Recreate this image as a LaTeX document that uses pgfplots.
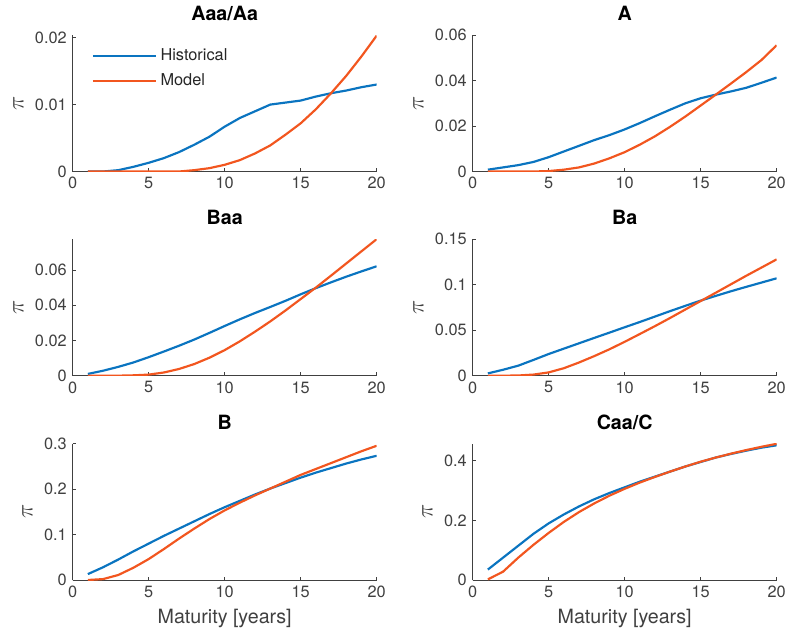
\documentclass[border=0pt]{standalone}
\usepackage{pgfplots}
\pgfplotsset{compat=1.18}
\usepackage{fontspec}
\setmainfont{TeX Gyre Heros}
\definecolor{mblue}{HTML}{0A74C0}
\definecolor{morange}{HTML}{F2561F}
\definecolor{axgray}{HTML}{404040}
\pgfplotsset{
  mystyle/.style={
    scale only axis, width=182.4pt, height=81.9pt,
    xmin=0, xmax=20, ymin=0,
    axis x line*=bottom, axis y line*=left,
    axis line style={draw=axgray, line width=0.5pt, -},
    tick align=inside, major tick length=2pt,
    tick style={draw=axgray, line width=0.5pt},
    xtick={0,5,10,15,20},
    ticklabel style={font=\fontsize{9.8}{11}\selectfont, text=axgray},
    /pgf/number format/assume math mode=true,
    yticklabel style={/pgf/number format/fixed, /pgf/number format/precision=2},
    scaled y ticks=false,
    ylabel={$\pi$},
    ylabel style={font=\fontsize{13.5}{15}\selectfont, text=axgray},
    xlabel style={font=\fontsize{11.8}{13}\selectfont, text=axgray},
    title style={font=\fontsize{11.8}{13}\selectfont\bfseries, yshift=-1pt},
    every axis plot/.append style={line width=1.3pt},
  },
  hist/.style={color=mblue},
  model/.style={color=morange},
}
\pgfplotstableread{
x hist model
1 0.0000 0.0000
2 0.0000 0.0000
3 0.0002 0.0000
4 0.0007 0.0000
5 0.0013 0.0000
6 0.0020 0.0000
7 0.0029 0.0000
8 0.0040 0.0002
9 0.0052 0.0005
10 0.0067 0.0010
11 0.0080 0.0017
12 0.0090 0.0027
13 0.0100 0.0039
14 0.0103 0.0055
15 0.0106 0.0072
16 0.0112 0.0093
17 0.0117 0.0117
18 0.0121 0.0143
19 0.0126 0.0172
20 0.0130 0.0203
}\tAaa
\pgfplotstableread{
x hist model
1 0.0008 0.0000
2 0.0018 0.0000
3 0.0028 0.0000
4 0.0042 0.0000
5 0.0063 0.0002
6 0.0088 0.0008
7 0.0113 0.0018
8 0.0138 0.0035
9 0.0160 0.0058
10 0.0185 0.0085
11 0.0213 0.0118
12 0.0243 0.0155
13 0.0272 0.0197
14 0.0300 0.0242
15 0.0322 0.0290
16 0.0338 0.0338
17 0.0352 0.0387
18 0.0368 0.0437
19 0.0390 0.0490
20 0.0413 0.0555
}\tA
\pgfplotstableread{
x hist model
1 0.0010 0.0000
2 0.0028 0.0000
3 0.0050 0.0000
4 0.0075 0.0002
5 0.0105 0.0006
6 0.0137 0.0018
7 0.0170 0.0038
8 0.0205 0.0066
9 0.0243 0.0102
10 0.0282 0.0145
11 0.0320 0.0195
12 0.0356 0.0250
13 0.0390 0.0308
14 0.0425 0.0370
15 0.0462 0.0435
16 0.0497 0.0500
17 0.0530 0.0568
18 0.0562 0.0637
19 0.0592 0.0706
20 0.0621 0.0775
}\tBaa
\pgfplotstableread{
x hist model
1 0.0025 0.0000
2 0.0065 0.0000
3 0.0110 0.0002
4 0.0173 0.0012
5 0.0238 0.0036
6 0.0297 0.0082
7 0.0356 0.0145
8 0.0415 0.0215
9 0.0473 0.0290
10 0.0532 0.0372
11 0.0590 0.0458
12 0.0650 0.0545
13 0.0710 0.0635
14 0.0768 0.0728
15 0.0825 0.0820
16 0.0877 0.0912
17 0.0928 0.1005
18 0.0976 0.1098
19 0.1023 0.1188
20 0.1070 0.1278
}\tBa
\pgfplotstableread{
x hist model
1 0.013 0.000
2 0.028 0.002
3 0.045 0.011
4 0.063 0.027
5 0.080 0.046
6 0.097 0.068
7 0.113 0.091
8 0.129 0.113
9 0.145 0.134
10 0.160 0.153
11 0.174 0.170
12 0.188 0.186
13 0.201 0.201
14 0.213 0.216
15 0.225 0.231
16 0.236 0.244
17 0.246 0.257
18 0.256 0.270
19 0.265 0.283
20 0.273 0.295
}\tB
\pgfplotstableread{
x hist model
1 0.035 0.002
2 0.075 0.028
3 0.115 0.075
4 0.155 0.118
5 0.190 0.158
6 0.220 0.195
7 0.247 0.228
8 0.271 0.257
9 0.292 0.283
10 0.311 0.306
11 0.330 0.327
12 0.347 0.346
13 0.364 0.364
14 0.381 0.381
15 0.396 0.397
16 0.411 0.411
17 0.423 0.424
18 0.434 0.436
19 0.444 0.447
20 0.452 0.457
}\tCaa
\begin{document}
\begin{tikzpicture}
\useasboundingbox (0,0) rectangle (472.2pt,-380.4pt);
% Row 1
\begin{axis}[mystyle, at={(43.6pt,-102.9pt)}, anchor=south west,
  title={Aaa/Aa}, ymax=0.0204, ytick={0,0.01,0.02},
  legend style={draw=none, fill=none, at={(0.045,0.95)}, anchor=north west,
    font=\fontsize{9.8}{11}\selectfont, text=black!85, row sep=2.5pt},
  legend cell align=left,
  legend image code/.code={\draw[#1] (0pt,0pt) -- (38pt,0pt);}]
\addplot[hist] table[x=x,y=hist] {\tAaa};
\addplot[model] table[x=x,y=model] {\tAaa};
\legend{Historical, Model}
\end{axis}
\begin{axis}[mystyle, at={(283.6pt,-102.9pt)}, anchor=south west,
  title={A}, ymax=0.06, ytick={0,0.02,0.04,0.06}]
\addplot[hist] table[x=x,y=hist] {\tA};
\addplot[model] table[x=x,y=model] {\tA};
\end{axis}
% Row 2
\begin{axis}[mystyle, at={(43.6pt,-225.4pt)}, anchor=south west,
  title={Baa}, ymax=0.0775, ytick={0,0.02,0.04,0.06}]
\addplot[hist] table[x=x,y=hist] {\tBaa};
\addplot[model] table[x=x,y=model] {\tBaa};
\end{axis}
\begin{axis}[mystyle, at={(283.6pt,-225.4pt)}, anchor=south west,
  title={Ba}, ymax=0.15, ytick={0,0.05,0.1,0.15}]
\addplot[hist] table[x=x,y=hist] {\tBa};
\addplot[model] table[x=x,y=model] {\tBa};
\end{axis}
% Row 3
\begin{axis}[mystyle, at={(43.6pt,-348pt)}, anchor=south west,
  title={B}, ymax=0.3, ytick={0,0.1,0.2,0.3}, xlabel={Maturity [years]}]
\addplot[hist] table[x=x,y=hist] {\tB};
\addplot[model] table[x=x,y=model] {\tB};
\end{axis}
\begin{axis}[mystyle, at={(283.6pt,-348pt)}, anchor=south west,
  title={Caa/C}, ymax=0.458, ytick={0,0.2,0.4}, xlabel={Maturity [years]}]
\addplot[hist] table[x=x,y=hist] {\tCaa};
\addplot[model] table[x=x,y=model] {\tCaa};
\end{axis}
\end{tikzpicture}
\end{document}
